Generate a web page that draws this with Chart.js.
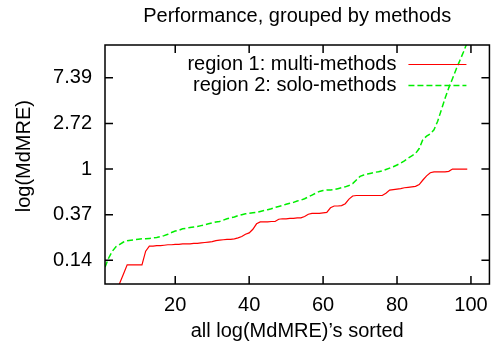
<!DOCTYPE html>
<html>
<head>
<meta charset="utf-8">
<script src="https://cdn.jsdelivr.net/npm/chart.js@4"></script>
<style>
  html, body { margin: 0; padding: 0; background: #fff; }
  canvas { display: block; }
</style>
</head>
<body>
<canvas id="chart" width="497" height="350"></canvas>
<script>
const titleText = "Performance, grouped by methods";
const xTitle = "all log(MdMRE)’s sorted";
// leading spaces lift the rotated label a little, like gnuplot places it
const yTitle = "\u00a0\u00a0\u00a0log(MdMRE)";
const seriesNames = ["region 1: multi-methods", "region 2: solo-methods"];

// log(MdMRE) values, sorted, one per rank (1, 2, 3 ...)
const multiMethods = [
  -3.3, -3.1, -2.9, -2.7, -2.5, -2.3, -2.10, -2.10, -2.10, -2.10,
  -2.10, -1.80, -1.69, -1.69, -1.68, -1.68, -1.67, -1.66, -1.66, -1.65,
  -1.65, -1.64, -1.64, -1.64, -1.63, -1.63, -1.62, -1.61, -1.60, -1.59,
  -1.57, -1.56, -1.55, -1.54, -1.54, -1.53, -1.51, -1.48, -1.43, -1.40,
  -1.32, -1.20, -1.16, -1.16, -1.16, -1.15, -1.15, -1.10, -1.09, -1.09,
  -1.08, -1.08, -1.07, -1.07, -1.04, -0.99, -0.97, -0.97, -0.97, -0.96,
  -0.95, -0.85, -0.81, -0.81, -0.80, -0.76, -0.66, -0.59, -0.58, -0.58,
  -0.58, -0.58, -0.58, -0.58, -0.58, -0.58, -0.53, -0.46, -0.45, -0.44,
  -0.43, -0.41, -0.40, -0.39, -0.38, -0.34, -0.24, -0.15, -0.08, -0.06,
  -0.06, -0.06, -0.06, -0.05, 0.0, 0.0, 0.0, 0.0, 0.0
];
const soloMethods = [
  -2.15, -1.95, -1.80, -1.70, -1.65, -1.60, -1.57, -1.56, -1.55, -1.54,
  -1.53, -1.53, -1.52, -1.51, -1.50, -1.48, -1.46, -1.43, -1.39, -1.36,
  -1.34, -1.31, -1.30, -1.28, -1.27, -1.26, -1.24, -1.22, -1.20, -1.18,
  -1.16, -1.15, -1.12, -1.09, -1.07, -1.05, -1.02, -1.00, -0.98, -0.97,
  -0.96, -0.95, -0.93, -0.91, -0.89, -0.87, -0.84, -0.82, -0.80, -0.77,
  -0.75, -0.73, -0.70, -0.68, -0.65, -0.61, -0.57, -0.53, -0.49, -0.47,
  -0.46, -0.46, -0.45, -0.43, -0.41, -0.39, -0.36, -0.32, -0.24, -0.16,
  -0.13, -0.11, -0.09, -0.07, -0.06, -0.04, -0.01, 0.02, 0.05, 0.09,
  0.13, 0.18, 0.24, 0.29, 0.34, 0.45, 0.65, 0.72, 0.77, 0.86,
  1.05, 1.30, 1.55, 1.78, 1.98, 2.19, 2.38, 2.57, 2.78, 3.0
];

const xTicks = [20, 40, 60, 80, 100];
const yTicks = [-2, -1, 0, 1, 2];
const yTickLabels = ["0.14", "0.37", "1", "2.72", "7.39"];

const family = "'Liberation Sans', Arial, Helvetica, sans-serif";
const font = { family, size: 20, weight: "normal" };

function toPoints(values) {
  return values.map((v, i) => ({ x: i + 1, y: v }));
}

// gnuplot style box with inward ticks on all four sides, plus the key
const framePlugin = {
  id: "frame",
  afterDraw(chart) {
    const { ctx, chartArea: a, scales } = chart;
    const tick = 8;
    ctx.save();
    ctx.strokeStyle = "#000";
    ctx.lineWidth = 1.5;
    ctx.strokeRect(a.left, a.top, a.right - a.left, a.bottom - a.top);
    ctx.beginPath();
    scales.x.ticks.forEach((t) => {
      const px = scales.x.getPixelForValue(t.value);
      ctx.moveTo(px, a.bottom);
      ctx.lineTo(px, a.bottom - tick);
      ctx.moveTo(px, a.top);
      ctx.lineTo(px, a.top + tick);
    });
    scales.y.ticks.forEach((t) => {
      const py = scales.y.getPixelForValue(t.value);
      ctx.moveTo(a.left, py);
      ctx.lineTo(a.left + tick, py);
      ctx.moveTo(a.right, py);
      ctx.lineTo(a.right - tick, py);
    });
    ctx.stroke();

    ctx.font = `20px ${family}`;
    ctx.fillStyle = "#000";
    ctx.textAlign = "right";
    ctx.textBaseline = "middle";
    chart.data.datasets.forEach((ds, i) => {
      const y = a.top + 19.5 + i * 21;
      ctx.fillText(ds.label, a.right - 93, y);
      ctx.strokeStyle = ds.borderColor;
      ctx.lineWidth = ds.borderWidth;
      ctx.setLineDash(ds.borderDash || []);
      ctx.beginPath();
      ctx.moveTo(a.right - 81, y);
      ctx.lineTo(a.right - 23, y);
      ctx.stroke();
    });
    ctx.restore();
  }
};

new Chart(document.getElementById("chart"), {
  type: "line",
  data: {
    datasets: [
      {
        label: seriesNames[0],
        data: toPoints(multiMethods),
        borderColor: "#ff0000",
        borderWidth: 1.2,
        pointRadius: 0,
        tension: 0
      },
      {
        label: seriesNames[1],
        data: toPoints(soloMethods),
        borderColor: "#00ee00",
        borderWidth: 1.5,
        borderDash: [6, 3],
        pointRadius: 0,
        tension: 0
      }
    ]
  },
  options: {
    responsive: false,
    animation: false,
    layout: { padding: { left: 12, right: 7, top: 0, bottom: 0 } },
    plugins: {
      legend: { display: false },
      tooltip: { enabled: false },
      title: {
        display: true,
        text: titleText,
        color: "#000",
        font,
        fullSize: false,
        padding: { top: 4, bottom: 17 }
      }
    },
    scales: {
      x: {
        type: "linear",
        min: 1,
        max: 105,
        afterBuildTicks: (s) => { s.ticks = xTicks.map((v) => ({ value: v })); },
        afterFit: (s) => { s.height = 66; },
        grid: { display: false, drawTicks: false },
        border: { display: false },
        ticks: { padding: 9, color: "#000", font, maxRotation: 0 },
        title: { display: true, text: xTitle, color: "#000", font, padding: { top: 0, bottom: 7 } }
      },
      y: {
        type: "linear",
        min: -2.52,
        max: 2.72,
        afterBuildTicks: (s) => { s.ticks = yTicks.map((v) => ({ value: v })); },
        afterFit: (s) => { s.width = 93; },
        grid: { display: false, drawTicks: false },
        border: { display: false },
        ticks: {
          padding: 13,
          color: "#000",
          font,
          callback: (v) => yTickLabels[yTicks.indexOf(v)]
        },
        title: { display: true, text: yTitle, color: "#000", font, padding: 0 }
      }
    }
  },
  plugins: [framePlugin]
});
</script>
</body>
</html>
